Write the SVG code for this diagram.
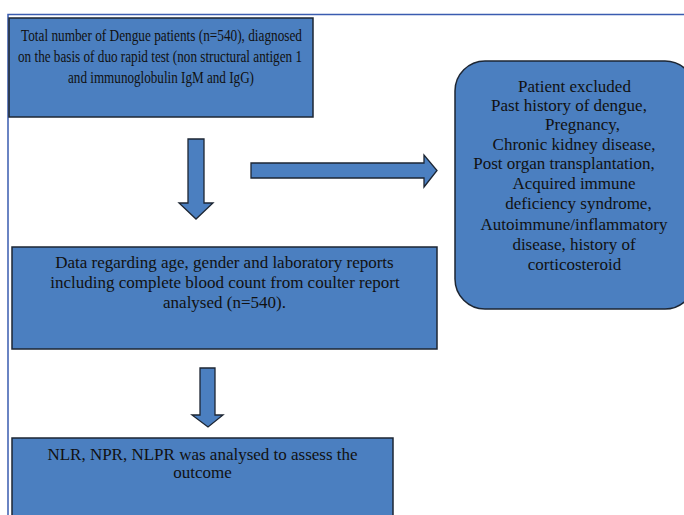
<svg xmlns="http://www.w3.org/2000/svg" width="684" height="515" viewBox="0 0 684 515">
<style>
.box{fill:#4b7fc0;stroke:#1d2633;stroke-width:1.5}
.arr{fill:#4b7fc0;stroke:#1d2633;stroke-width:1.3;stroke-linejoin:miter}
.t{font-family:"Liberation Serif","Times New Roman",serif;font-size:17px;fill:#111;text-anchor:middle}
.frame{fill:none;stroke:#3a5cb0;stroke-width:1.5}
</style>
<rect width="684" height="515" fill="#ffffff"/>
<path class="frame" d="M8,515 V14.5 H684"/>
<g id="node-total">
<rect class="box" x="9" y="18" width="304" height="99"/>
<text class="t" x="161.5" y="41" textLength="281" lengthAdjust="spacingAndGlyphs">Total number of Dengue patients (n=540), diagnosed</text>
<text class="t" x="160" y="62" textLength="284" lengthAdjust="spacingAndGlyphs">on the basis of duo rapid test (non structural antigen 1</text>
<text class="t" x="161" y="83" textLength="186" lengthAdjust="spacingAndGlyphs">and immunoglobulin IgM and IgG)</text>
</g>
<g id="node-data">
<rect class="box" x="12" y="247" width="425" height="102"/>
<text class="t" x="224.5" y="268">Data regarding age, gender and laboratory reports</text>
<text class="t" x="225" y="288">including complete blood count from coulter report</text>
<text class="t" x="224.5" y="308">analysed (n=540).</text>
</g>
<g id="node-excluded">
<rect class="box" x="455" y="61" width="240" height="248" rx="30" ry="30"/>
<text class="t" x="574.5" y="92">Patient excluded</text>
<text class="t" x="569" y="111">Past history of dengue,</text>
<text class="t" x="582.5" y="130">Pregnancy,</text>
<text class="t" x="574" y="150">Chronic kidney disease,</text>
<text class="t" x="564" y="169">Post organ transplantation,</text>
<text class="t" x="574" y="189">Acquired immune</text>
<text class="t" x="578.5" y="209">deficiency syndrome,</text>
<text class="t" x="574" y="230">Autoimmune/inflammatory</text>
<text class="t" x="574" y="250">disease, history of</text>
<text class="t" x="574.5" y="270">corticosteroid</text>
</g>
<g id="node-nlr">
<rect class="box" x="12" y="438" width="381" height="90"/>
<text class="t" x="202.5" y="460">NLR, NPR, NLPR was analysed to assess the</text>
<text class="t" x="202.5" y="478">outcome</text>
</g>
<g id="connectors">
<polygon class="arr" points="188,139 204,139 204,203 213,203 196,219 179,203 188,203"/>
<polygon class="arr" points="251,163 424,163 424,155 437,170.5 424,187 424,178 251,178"/>
<polygon class="arr" points="200,368 215,368 215,415 223,415 208,427 192,415 200,415"/>
</g>
</svg>
